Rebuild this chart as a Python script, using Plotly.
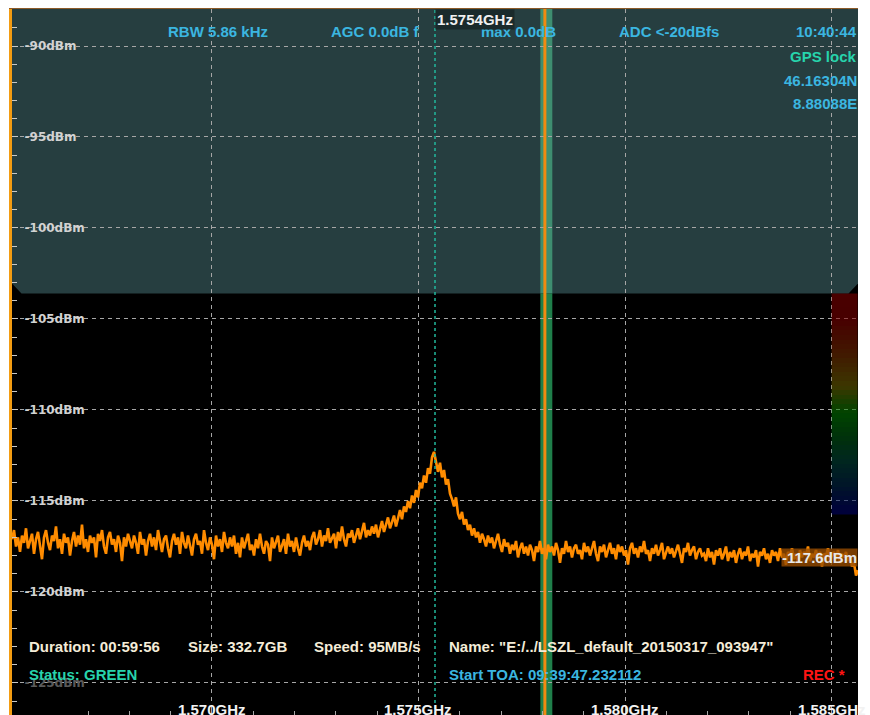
import numpy as np
import plotly.graph_objects as go

# ---- receiver settings -------------------------------------------------
CENTER_GHZ = 1.5754
SPAN_GHZ = 0.02048
F_START = CENTER_GHZ - SPAN_GHZ / 2
F_STOP = CENTER_GHZ + SPAN_GHZ / 2
REF_TOP_DBM = -87.967
REF_BOTTOM_DBM = -126.76

# ---- spectrum trace (dBm per bin, evenly spaced across the span) --------
spectrum_dbm = [
    -117.1, -116.6, -117.5, -117.0, -117.8, -116.9, -117.3, -116.5, -117.6, -117.2,
    -116.8, -117.9, -117.1, -116.7, -117.4, -118.2, -117.0, -116.6, -117.3, -117.7,
    -116.9, -117.2, -116.4, -117.6, -117.1, -117.9, -116.8, -117.3, -117.0, -118.0,
    -117.2, -116.7, -117.5, -116.9, -117.4, -116.3, -117.6, -117.1, -117.8, -116.9,
    -117.3, -117.0, -118.1, -116.8, -117.2, -116.6, -117.5, -117.9, -117.0, -116.7,
    -117.4, -117.1, -117.8, -116.9, -117.3, -118.3, -117.0, -117.5, -116.8, -117.2,
    -117.6, -116.9, -117.3, -117.9, -116.7, -117.4, -117.1, -118.0, -117.2, -116.8,
    -117.5, -117.0, -117.7, -116.6, -117.3, -117.8, -117.1, -116.9, -117.6, -118.1,
    -117.2, -116.8, -117.4, -117.0, -117.9, -116.7, -117.3, -117.6, -116.9, -117.5,
    -118.0, -117.1, -116.8, -117.4, -117.2, -117.9, -116.6, -117.3, -117.7, -117.0,
    -117.4, -118.2, -116.9, -117.5, -117.1, -117.8, -116.7, -117.3, -117.6, -117.0,
    -117.5, -116.9, -117.9, -117.3, -118.1, -117.0, -117.6, -117.2, -116.8, -117.7,
    -117.4, -118.0, -117.1, -117.6, -116.8, -117.5, -117.9, -117.2, -117.4, -118.3,
    -117.0, -117.6, -117.3, -116.9, -117.8, -117.4, -117.1, -117.9, -116.8, -117.5,
    -117.2, -117.8, -117.0, -117.6, -118.0, -117.3, -116.9, -117.5, -117.2, -117.7,
    -117.0, -116.7, -117.4, -117.1, -116.6, -117.5, -116.9, -117.2, -116.5, -117.3,
    -117.0, -116.8, -117.6, -116.7, -117.2, -116.4, -117.1, -117.5, -116.8, -117.0,
    -116.6, -117.3, -116.9, -116.5, -117.1, -116.7, -116.2, -117.0, -116.6, -116.9,
    -116.4, -116.8, -116.3, -117.0, -116.5, -116.1, -116.7, -116.3, -115.9, -116.5,
    -116.2, -115.8, -116.4, -115.9, -115.5, -116.0, -115.3, -115.6, -115.0, -115.4,
    -114.7, -115.1, -114.4, -114.8, -114.0, -114.3, -113.6, -114.0, -113.2, -113.5,
    -112.6, -112.3, -112.8, -113.4, -112.9, -113.7, -113.3, -114.1, -113.8, -114.6,
    -114.9, -115.3, -114.8, -115.7, -116.0, -115.6, -116.3, -116.0, -116.6, -116.3,
    -116.9, -116.5, -117.0, -116.7, -117.3, -116.8, -117.1, -117.5, -116.9, -117.3,
    -117.0, -117.6, -117.2, -116.8, -117.4, -117.8, -117.1, -117.5, -117.3, -117.9,
    -117.4, -117.7, -117.2, -118.1, -117.6, -117.3, -117.9, -117.5, -118.0, -117.4,
    -117.7, -118.3, -117.5, -117.8, -117.2, -117.9, -117.6, -118.2, -117.4, -117.8,
    -117.5, -118.0, -117.3, -117.7, -118.4, -117.6, -117.9, -117.2, -117.8, -117.5,
    -118.1, -117.6, -117.4, -117.9, -117.7, -118.2, -117.3, -117.8, -117.5, -118.0,
    -117.6, -117.2, -117.9, -118.3, -117.5, -117.8, -117.4, -118.1, -117.7, -117.3,
    -117.9, -117.6, -118.2, -117.4, -117.8, -117.5, -118.0, -117.7, -118.5, -117.6,
    -117.3, -117.9, -117.6, -118.1, -117.5, -117.8, -117.2, -117.9, -117.7, -118.3,
    -117.6, -117.9, -117.4, -118.0, -117.7, -117.3, -118.2, -117.8, -117.5, -117.9,
    -117.6, -118.1, -117.7, -117.4, -117.9, -118.4, -117.6, -117.8, -117.3, -118.0,
    -117.7, -117.5, -118.2, -117.8, -117.6, -118.0, -117.9, -118.3, -117.6, -118.1,
    -117.8, -118.5, -117.7, -118.0, -117.6, -118.2, -117.9, -117.5, -118.3, -117.8,
    -118.1, -117.7, -118.4, -117.9, -117.6, -118.2, -117.8, -118.0, -117.5, -118.3,
    -117.9, -118.1, -117.7, -118.6, -117.8, -118.0, -117.6, -118.2, -117.9, -118.4,
    -117.7, -118.0, -117.8, -118.3, -117.6, -118.1, -117.9, -118.5, -117.8, -118.0,
    -117.6, -118.2, -117.9, -118.4, -117.7, -118.1, -117.8, -118.0, -117.5, -118.3,
    -117.9, -118.1, -117.7, -118.2, -117.8, -118.6, -117.9, -118.0, -117.6, -118.3,
    -118.0, -117.8, -118.2, -117.7, -118.4, -117.9, -118.1, -117.8, -118.3, -118.0,
    -118.6, -118.4, -119.1, -118.8,
]
freq_ghz = np.linspace(F_START, F_STOP, len(spectrum_dbm))

# ---- axes --------------------------------------------------------------
y_ticks = [-90, -95, -100, -105, -110, -115, -120, -125]
y_tick_labels = ["-90dBm", "-95dBm", "-100dBm", "-105dBm", "-110dBm",
                 "-115dBm", "-120dBm", "<span style='color:#5a5a5a'>-125dBm</span>"]
x_ticks = [1.570, 1.575, 1.580, 1.585]
x_tick_labels = ["1.570GHz", "1.575GHz", "1.580GHz", "1.585GHz"]

# ---- markers / overlays -------------------------------------------------
marker_ghz = 1.5754
marker_label = "1.5754GHz"
channel_lo_ghz = 1.57795
channel_hi_ghz = 1.57824
channel_line_ghz = 1.57806
noise_floor_dbm = -117.6
header_split_dbm = -103.6
palette_lo_ghz = 1.5850
palette_top_dbm = -103.6
palette_bottom_dbm = -115.77

# ---- page geometry -----------------------------------------------------
W, H = 870, 715
ML, MR, MT, MB = 12, 12, 9, 0


def px_x(x):
    return (x - ML) / (W - ML - MR)


def px_y(y):
    return (H - MB - y) / (H - MT - MB)


ORANGE = "#ff8c00"
GRID = "#a6a6a6"
SLATE = "#263e40"
INFO_BLUE = "#3bb6e0"
INFO_TEAL = "#27d4ac"
CREAM = "#f4ecd8"
FONT = "Liberation Sans, Arial, sans-serif"

fig = go.Figure()

# waterfall palette strip (semi-transparent, grid shows through)
n_rows = 48
pal_y = np.linspace(palette_bottom_dbm, palette_top_dbm, n_rows + 1)
pal_z = [[1 - (r + 0.5) / n_rows] for r in range(n_rows)]
fig.add_trace(go.Heatmap(
    x=[palette_lo_ghz, F_STOP], y=pal_y, z=pal_z,
    zmin=0, zmax=1, showscale=False, opacity=0.55, hoverinfo="skip",
    colorscale=[
        [0.00, "rgb(135,0,0)"],
        [0.12, "rgb(130,0,0)"],
        [0.27, "rgb(120,45,0)"],
        [0.42, "rgb(110,100,0)"],
        [0.54, "rgb(0,125,0)"],
        [0.65, "rgb(0,90,20)"],
        [0.75, "rgb(0,72,55)"],
        [0.87, "rgb(0,38,75)"],
        [1.00, "rgb(0,0,110)"],
    ],
))

# spectrum
fig.add_trace(go.Scatter(
    x=freq_ghz, y=spectrum_dbm, mode="lines",
    line=dict(color=ORANGE, width=2.6), hoverinfo="skip",
))

# header panel with chamfered lower corners
cw, ch = 0.00023, 0.55
slate_path = (
    f"M {F_START},{REF_TOP_DBM} L {F_STOP},{REF_TOP_DBM} "
    f"L {F_STOP},{header_split_dbm + ch} L {F_STOP - cw},{header_split_dbm} "
    f"L {F_START + cw},{header_split_dbm} L {F_START},{header_split_dbm + ch} Z"
)
shapes = [
    dict(type="path", path=slate_path, xref="x", yref="y",
         fillcolor=SLATE, line=dict(width=0), layer="below"),
    # selected channel band
    dict(type="rect", xref="x", yref="y", x0=channel_lo_ghz, x1=channel_hi_ghz,
         y0=header_split_dbm, y1=REF_TOP_DBM, fillcolor="#3e8e70",
         line=dict(width=0), layer="below"),
    dict(type="rect", xref="x", yref="y", x0=channel_lo_ghz, x1=channel_hi_ghz,
         y0=REF_BOTTOM_DBM, y1=header_split_dbm, fillcolor="#1f7f4a",
         line=dict(width=0), layer="below"),
    dict(type="line", xref="x", yref="paper", x0=channel_line_ghz, x1=channel_line_ghz,
         y0=0, y1=1, line=dict(color="#f08a10", width=3), layer="above"),
    # frequency marker
    dict(type="line", xref="x", yref="paper", x0=marker_ghz, x1=marker_ghz,
         y0=0, y1=1, line=dict(color="#22b89c", width=1.5, dash="dot"), layer="above"),
]

annotations = []


def info(text, x, y, color, anchor="left", size=15):
    annotations.append(dict(
        text=text, xref="paper", yref="paper", x=px_x(x), y=px_y(y),
        xanchor=anchor, yanchor="middle", showarrow=False,
        font=dict(family=FONT, size=size, color=color, weight="bold"),
    ))


# status header
info("RBW 5.86 kHz", 166, 32, INFO_BLUE)
info("AGC 0.0dB f", 329, 32, INFO_BLUE)
info("max 0.0dB", 479, 32, INFO_BLUE)
info("ADC &lt;-20dBfs", 617, 32, INFO_BLUE)
info("10:40:44", 859, 32, INFO_BLUE, anchor="right")
info("GPS lock", 859, 56, INFO_TEAL, anchor="right")
info("46.16304N", 859, 80, INFO_BLUE, anchor="right")
info("8.88088E", 859, 103, INFO_BLUE, anchor="right")

# recording footer
info("Duration: 00:59:56", 27, 646, CREAM)
info("Size: 332.7GB", 186, 646, CREAM)
info("Speed: 95MB/s", 312, 646, CREAM)
info('Name: "E:/../LSZL_default_20150317_093947"', 447, 646, CREAM)
info("Status: GREEN", 27, 674, INFO_TEAL)
info("Start TOA: 09:39:47.232112", 447, 674, INFO_BLUE)
info("REC *", 801, 674, "#ff1414")

# marker readout
annotations.append(dict(
    text=marker_label, xref="x", yref="paper", x=marker_ghz, y=1,
    xanchor="left", yanchor="top", showarrow=False, borderpad=1,
    bgcolor="#1a2a2b", font=dict(family=FONT, size=15, color="#f0f0f0", weight="bold"),
))

# noise floor readout
annotations.append(dict(
    text=f"{noise_floor_dbm:.1f}dBm", xref="paper", yref="y", x=1, y=noise_floor_dbm,
    xanchor="right", yanchor="top", showarrow=False, borderpad=0,
    bgcolor="rgba(150,75,0,0.8)", font=dict(family=FONT, size=15, color="#e8e8e8", weight="bold"),
))

# frequency tick labels along the bottom edge
for fv, lab in zip(x_ticks, x_tick_labels):
    annotations.append(dict(
        text=lab, xref="x", yref="paper", x=fv, y=0, xanchor="center",
        yanchor="middle", yshift=6, showarrow=False,
        font=dict(family=FONT, size=15, color="#f2f2f2", weight="bold"),
    ))

fig.update_layout(
    width=W, height=H, margin=dict(l=ML, r=MR, t=MT, b=MB),
    paper_bgcolor="white", plot_bgcolor="black", showlegend=False,
    shapes=shapes, annotations=annotations,
    xaxis=dict(
        range=[F_START, F_STOP], tickmode="array", tickvals=x_ticks,
        showticklabels=False, ticks="inside", ticklen=6, tickcolor=GRID,
        showgrid=True, gridcolor=GRID, griddash="4px,4px", gridwidth=1,
        zeroline=False, showline=True, mirror=True, linecolor="#8c5a28", linewidth=1,
        minor=dict(tickmode="linear", tick0=1.570, dtick=0.001, ticks="inside",
                   ticklen=4, tickcolor=GRID, showgrid=False),
    ),
    yaxis=dict(
        range=[REF_BOTTOM_DBM, REF_TOP_DBM], tickmode="array",
        tickvals=y_ticks, ticktext=y_tick_labels, ticklabelposition="inside",
        ticklabelstandoff=6,
        ticks="inside", ticklen=6, tickcolor="#c8c8c8",
        tickfont=dict(family="DejaVu Sans", size=12, color="#d2d2d2", weight="bold"),
        showgrid=True, gridcolor=GRID, griddash="4px,4px", gridwidth=1,
        zeroline=False, showline=True, linecolor="#f39c12", linewidth=3,
        minor=dict(tickmode="linear", tick0=-90, dtick=1, ticks="inside",
                   ticklen=5, tickcolor="#c8c8c8", showgrid=False),
    ),
)

fig.write_html("out.html")
